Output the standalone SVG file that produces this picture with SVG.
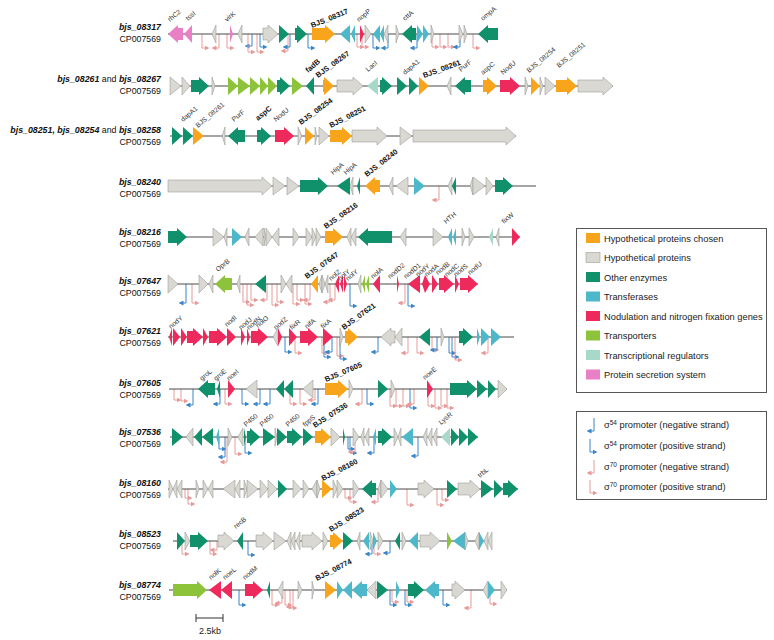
<svg xmlns="http://www.w3.org/2000/svg" width="774" height="640" viewBox="0 0 774 640">
<defs>
<style>
.tr{stroke:#4a4a4a;stroke-width:1}
.o{fill:#F8A51B}
.g{fill:#D9D8D2;stroke:#9E9D98;stroke-width:0.6}
.e{fill:#11906C}
.t{fill:#4CB8C9}
.n{fill:#EE2A5C}
.l{fill:#8DC33B}
.r{fill:#A7D9C9}
.s{fill:#E97FC5}
.pb{fill:none;stroke:#3A86C8;stroke-width:1;marker-end:url(#mb)}
.pp{fill:none;stroke:#E89A9A;stroke-width:1;marker-end:url(#mp)}
.lb{font-family:"Liberation Sans",Arial,sans-serif;font-size:6.8px;fill:#333}
.lbb{font-family:"Liberation Sans",Arial,sans-serif;font-size:7.5px;font-weight:bold;fill:#111}
.nm{font-family:"Liberation Sans",Arial,sans-serif;font-size:8.8px;font-weight:bold;font-style:italic;fill:#111;text-anchor:end}
.nm tspan.a{font-weight:normal;font-style:normal}
.cp{font-family:"Liberation Sans",Arial,sans-serif;font-size:8.8px;fill:#111;text-anchor:end}
.lg{font-family:"Liberation Sans",Arial,sans-serif;font-size:9.3px;fill:#222}
</style>
<marker id="mb" markerWidth="5" markerHeight="5" refX="3.5" refY="2.5" orient="auto" markerUnits="userSpaceOnUse"><path d="M0 0L5 2.5L0 5Z" fill="#3A86C8"/></marker>
<marker id="mp" markerWidth="5" markerHeight="5" refX="3.5" refY="2.5" orient="auto" markerUnits="userSpaceOnUse"><path d="M0 0L5 2.5L0 5Z" fill="#E89A9A"/></marker>
</defs>
<rect width="774" height="640" fill="#fff"/>

<!-- left labels -->
<g id="names">
<text class="nm" x="161" y="30">bjs_08317</text><text class="cp" x="161" y="42">CP007569</text>
<text class="nm" x="161" y="82">bjs_08261<tspan class="a"> and </tspan>bjs_08267</text><text class="cp" x="161" y="94">CP007569</text>
<text class="nm" x="161" y="133">bjs_08251, bjs_08254<tspan class="a"> and </tspan>bjs_08258</text><text class="cp" x="161" y="145">CP007569</text>
<text class="nm" x="161" y="185">bjs_08240</text><text class="cp" x="161" y="197">CP007569</text>
<text class="nm" x="161" y="235">bjs_08216</text><text class="cp" x="161" y="247">CP007569</text>
<text class="nm" x="161" y="284">bjs_07647</text><text class="cp" x="161" y="296">CP007569</text>
<text class="nm" x="161" y="334">bjs_07621</text><text class="cp" x="161" y="346">CP007569</text>
<text class="nm" x="161" y="386">bjs_07605</text><text class="cp" x="161" y="398">CP007569</text>
<text class="nm" x="161" y="435">bjs_07536</text><text class="cp" x="161" y="447">CP007569</text>
<text class="nm" x="161" y="486">bjs_08160</text><text class="cp" x="161" y="498">CP007569</text>
<text class="nm" x="161" y="537">bjs_08523</text><text class="cp" x="161" y="549">CP007569</text>
<text class="nm" x="161" y="588">bjs_08774</text><text class="cp" x="161" y="600">CP007569</text>
</g>

<!-- promoters (connectors) -->
<g id="connectors">
<path class="pp" d="M202 34V48h6"/><path class="pp" d="M219 34V48h-6"/><path class="pp" d="M227 34V48h6"/><path class="pb" d="M252 34V46h-6"/><path class="pp" d="M248 34V52h6"/><path class="pp" d="M257 34V52h6"/><path class="pb" d="M260 34V47h6"/><path class="pp" d="M288 34V51h-6"/><path class="pb" d="M290 34V47h-6"/><path class="pb" d="M308 34V48h6"/><path class="pp" d="M357 34V47h6"/><path class="pp" d="M362 34V47h6"/><path class="pb" d="M373 34V48h6"/><path class="pb" d="M388 34V48h-6"/><path class="pb" d="M417 34V48h-6"/><path class="pp" d="M432 34V47h6"/><path class="pp" d="M440 34V47h6"/><path class="pp" d="M448 34V47h6"/><path class="pb" d="M460 34V47h-6"/><path class="pp" d="M473 34V48h6"/>
<path class="pp" d="M439 186V200h-6"/>
<path class="pb" d="M186 284V303h-6"/><path class="pp" d="M192 284V303h6"/><path class="pp" d="M243 284V302h6"/><path class="pp" d="M247 284V305h6"/><path class="pp" d="M251 284V300h6"/><path class="pp" d="M267 284V300h-6"/><path class="pp" d="M272 284V305h6"/><path class="pp" d="M277 284V302h6"/><path class="pp" d="M293 284V304h6"/><path class="pp" d="M297 284V300h6"/><path class="pp" d="M305 284V304h6"/><path class="pp" d="M310 284V300h-6"/><path class="pp" d="M330 284V302h-6"/><path class="pp" d="M335 284V300h-6"/><path class="pb" d="M350 284V306h6"/><path class="pp" d="M405 284V303h-6"/><path class="pb" d="M408 284V306h6"/>
<path class="pb" d="M285 337V352h6"/><path class="pp" d="M295 337V353h6"/><path class="pp" d="M322 337V353h6"/><path class="pb" d="M324 337V357h6"/><path class="pb" d="M332 337V352h-6"/><path class="pp" d="M337 337V356h6"/><path class="pb" d="M340 337V359h6"/><path class="pb" d="M378 337V352h-6"/><path class="pp" d="M408 337V353h-6"/><path class="pp" d="M417 337V353h6"/><path class="pp" d="M432 337V350h6"/><path class="pb" d="M437 337V350h-6"/><path class="pb" d="M449 337V353h6"/><path class="pb" d="M452 337V357h6"/><path class="pp" d="M455 337V360h6"/><path class="pp" d="M488 337V353h-6"/>
<path class="pp" d="M174 389V400h6"/><path class="pp" d="M181 389V401h6"/><path class="pb" d="M193 389V405h-6"/><path class="pb" d="M220 389V404h-6"/><path class="pp" d="M225 389V404h6"/><path class="pb" d="M242 389V404h6"/><path class="pb" d="M260 389V404h-6"/><path class="pb" d="M270 389V404h-6"/><path class="pp" d="M290 389V404h6"/><path class="pp" d="M300 389V404h6"/><path class="pp" d="M315 389V400h-6"/><path class="pb" d="M318 389V404h-6"/><path class="pp" d="M362 389V404h-6"/><path class="pb" d="M367 389V404h6"/><path class="pp" d="M390 389V406h6"/><path class="pp" d="M396 389V406h6"/><path class="pp" d="M403 389V406h6"/><path class="pb" d="M410 389V408h6"/><path class="pp" d="M414 389V404h-6"/><path class="pp" d="M428 389V406h6"/><path class="pp" d="M435 389V408h6"/><path class="pp" d="M441 389V406h6"/><path class="pp" d="M447 389V408h6"/>
<path class="pb" d="M219 437V449h6"/><path class="pb" d="M225 437V457h-6"/><path class="pp" d="M227 437V462h-6"/><path class="pp" d="M235 437V454h6"/><path class="pb" d="M245 437V453h6"/><path class="pb" d="M348 437V449h6"/><path class="pb" d="M350 437V453h6"/><path class="pp" d="M355 437V452h-6"/><path class="pb" d="M374 437V453h-6"/><path class="pb" d="M418 437V456h-6"/>
<path class="pp" d="M185 489V498h6"/><path class="pp" d="M188 489V504h6"/><path class="pp" d="M345 489V498h6"/><path class="pp" d="M350 489V502h6"/><path class="pp" d="M378 489V502h-6"/><path class="pp" d="M407 489V505h6"/><path class="pp" d="M437 489V505h6"/><path class="pp" d="M442 489V500h6"/>
<path class="pp" d="M182 541V554h6"/><path class="pp" d="M210 541V554h6"/><path class="pp" d="M217 541V550h-6"/><path class="pb" d="M248 541V555h6"/><path class="pb" d="M372 541V554h-6"/><path class="pp" d="M374 541V554h6"/><path class="pb" d="M390 541V553h-6"/>
<path class="pb" d="M239 590V605h6"/><path class="pp" d="M272 590V605h6"/><path class="pp" d="M282 590V603h-6"/><path class="pp" d="M285 590V605h6"/><path class="pp" d="M290 590V608h6"/><path class="pp" d="M293 590V607h-6"/><path class="pb" d="M390 590V605h6"/><path class="pp" d="M392 590V602h6"/><path class="pb" d="M405 590V605h6"/><path class="pp" d="M407 590V602h6"/><path class="pb" d="M443 590V605h6"/><path class="pp" d="M471 590V608h-6"/><path class="pp" d="M490 590V604h6"/>
</g>

<!-- Row 1 -->
<g id="locus-bjs_08317" transform="translate(0,34)">
<path class="tr" d="M168 0H498"/>
<path class="s" d="M183 -6H178V-9L168 0L178 9V6H183Z"/>
<path class="s" d="M192 -9L184 0L192 9Z"/>
<path class="g" d="M216 -9L212 0L216 9Z"/>
<path class="s" d="M230 -9L233 0L230 9Z"/>
<path class="g" d="M242 -9L238 0L242 9Z"/>
<path class="g" d="M263 -6H268V-9L278 0L268 9V6H263Z"/>
<path class="e" d="M279 -9L289 0L279 9Z"/>
<path class="e" d="M295 -6H297V-9L307 0L297 9V6H295Z"/>
<path class="o" d="M312 -6H325V-9L335 0L325 9V6H312Z"/>
<path class="t" d="M350 -9L340 0L350 9Z"/>
<path class="t" d="M355 -9L351 0L355 9Z"/>
<path class="n" d="M360 -9L364 0L360 9Z"/>
<path class="g" d="M365 -9L371 0L365 9Z"/>
<path class="t" d="M380 -9L373 0L380 9Z"/>
<path class="t" d="M384 -9L380 0L384 9Z"/>
<path class="g" d="M388 -9L384 0L388 9Z"/>
<path class="g" d="M396 -9L399 0L396 9Z"/>
<path class="e" d="M416 -6H412V-9L402 0L412 9V6H416Z"/>
<path class="t" d="M417 -9L423 0L417 9Z"/>
<path class="t" d="M423 -9L429 0L423 9Z"/>
<path class="g" d="M431 -9L434 0L431 9Z"/>
<path class="g" d="M459 -9L463 0L459 9Z"/>
<path class="g" d="M464 -9L467 0L464 9Z"/>
<path class="e" d="M498 -6H488V-9L478 0L488 9V6H498Z"/>
<text class="lb" transform="translate(170,-12) rotate(-40)">rhC2</text>
<text class="lb" transform="translate(188,-13) rotate(-40)">tssI</text>
<text class="lb" transform="translate(227,-12) rotate(-40)">virK</text>
<text class="lbb" transform="translate(312,-6) rotate(-22)">BJS_08317</text>
<text class="lb" transform="translate(359,-12) rotate(-40)">nopP</text>
<text class="lb" transform="translate(405,-13) rotate(-40)">cttA</text>
<text class="lb" transform="translate(483,-13) rotate(-40)">ompA</text>
</g>

<!-- Row 2 -->
<g id="locus-bjs_08261_08267" transform="translate(0,86)">
<path class="tr" d="M170 0H613"/>
<path class="g" d="M170 -9L181 0L170 9Z"/>
<path class="g" d="M182 -9L190 0L182 9Z"/>
<path class="e" d="M191 -6H199V-9L209 0L199 9V6H191Z"/>
<path class="g" d="M212 -9L215 0L212 9Z"/>
<path class="l" d="M228 -9L238 0L228 9Z"/>
<path class="l" d="M238 -9L250 0L238 9Z"/>
<path class="l" d="M250 -9L260 0L250 9Z"/>
<path class="l" d="M260 -9L268 0L260 9Z"/>
<path class="l" d="M268 -9L277 0L268 9Z"/>
<path class="e" d="M277 -6H280V-9L290 0L280 9V6H277Z"/>
<path class="l" d="M292 -9L303 0L292 9Z"/>
<path class="e" d="M314 -9L306 0L314 9Z"/>
<path class="o" d="M323 -6H324V-9L334 0L324 9V6H323Z"/>
<path class="g" d="M337 -6H353V-9L363 0L353 9V6H337Z"/>
<path class="r" d="M378 -9L367 0L378 9Z"/>
<path class="e" d="M380 -6H382V-9L392 0L382 9V6H380Z"/>
<path class="e" d="M397 -9L407 0L397 9Z"/>
<path class="e" d="M409 -9L418 0L409 9Z"/>
<path class="o" d="M419 -9L429 0L419 9Z"/>
<path class="g" d="M451 -9L447 0L451 9Z"/>
<path class="e" d="M471 -6H465V-9L455 0L465 9V6H471Z"/>
<path class="o" d="M483 -6H487V-9L497 0L487 9V6H483Z"/>
<path class="n" d="M500 -6H510V-9L520 0L510 9V6H500Z"/>
<path class="g" d="M525 -9L528 0L525 9Z"/>
<path class="o" d="M531 -9L540 0L531 9Z"/>
<path class="g" d="M540 -9L543 0L540 9Z"/>
<path class="g" d="M545 -9L555 0L545 9Z"/>
<path class="o" d="M556 -6H567V-9L577 0L567 9V6H556Z"/>
<path class="g" d="M578 -6H603V-9L613 0L603 9V6H578Z"/>
<text class="lbb" transform="translate(308,-13) rotate(-40)">fadB</text>
<text class="lbb" transform="translate(318,-8) rotate(-36)">BJS_08267</text>
<text class="lb" transform="translate(368,-14) rotate(-40)">LacI</text>
<text class="lb" transform="translate(405,-11) rotate(-40)">dapA1</text>
<text class="lbb" transform="translate(424,-8) rotate(-20)">BJS_08261</text>
<text class="lb" transform="translate(461,-14) rotate(-40)">PurF</text>
<text class="lb" transform="translate(483,-11) rotate(-40)">aspC</text>
<text class="lb" transform="translate(503,-11) rotate(-40)">NodU</text>
<text class="lb" transform="translate(529,-13) rotate(-40)">BJS_08254</text>
<text class="lb" transform="translate(559,-18) rotate(-40)">BJS_08251</text>
</g>

<!-- Row 3 -->
<g id="locus-bjs_08251_08254_08258" transform="translate(0,136)">
<path class="tr" d="M170 0H516"/>
<path class="e" d="M172 -9L182 0L172 9Z"/>
<path class="e" d="M183 -9L193 0L183 9Z"/>
<path class="o" d="M193 -9L204 0L193 9Z"/>
<path class="g" d="M225 -9L222 0L225 9Z"/>
<path class="e" d="M245 -6H238V-9L228 0L238 9V6H245Z"/>
<path class="e" d="M257 -6H261V-9L271 0L261 9V6H257Z"/>
<path class="n" d="M275 -6H284V-9L294 0L284 9V6H275Z"/>
<path class="g" d="M298 -9L302 0L298 9Z"/>
<path class="o" d="M305 -9L314 0L305 9Z"/>
<path class="g" d="M315 -9L317 0L315 9Z"/>
<path class="g" d="M319 -9L329 0L319 9Z"/>
<path class="o" d="M330 -6H342V-9L352 0L342 9V6H330Z"/>
<path class="g" d="M352 -6H377V-9L387 0L377 9V6H352Z"/>
<path class="g" d="M400 -9L412 0L400 9Z"/>
<path class="g" d="M413 -6H506V-9L516 0L506 9V6H413Z"/>
<text class="lb" transform="translate(183,-14) rotate(-40)">dapA1</text>
<text class="lb" transform="translate(198,-8) rotate(-40)">BJS_08261</text>
<text class="lb" transform="translate(234,-14) rotate(-40)">PurF</text>
<text class="lbb" transform="translate(258,-15) rotate(-40)">aspC</text>
<text class="lb" transform="translate(276,-14) rotate(-40)">NodU</text>
<text class="lbb" transform="translate(301,-11) rotate(-36)">BJS_08254</text>
<text class="lbb" transform="translate(331,-8) rotate(-27)">BJS_08251</text>
</g>

<!-- Row 4 -->
<g id="locus-bjs_08240" transform="translate(0,186)">
<path class="tr" d="M168 0H536"/>
<path class="g" d="M168 -6H262V-9L272 0L262 9V6H168Z"/>
<path class="g" d="M273 -9L285 0L273 9Z"/>
<path class="g" d="M287 -9L299 0L287 9Z"/>
<path class="e" d="M300 -6H318V-9L328 0L318 9V6H300Z"/>
<path class="e" d="M350 -9L337 0L350 9Z"/>
<path class="g" d="M353 -9L350 0L353 9Z"/>
<path class="e" d="M360 -9L357 0L360 9Z"/>
<path class="o" d="M380 -6H375V-9L365 0L375 9V6H380Z"/>
<path class="g" d="M393 -9L389 0L393 9Z"/>
<path class="g" d="M408 -9L396 0L408 9Z"/>
<path class="t" d="M414 -9L425 0L414 9Z"/>
<path class="g" d="M452 -9L448 0L452 9Z"/>
<path class="e" d="M456 -9L452 0L456 9Z"/>
<path class="g" d="M473 -9L470 0L473 9Z"/>
<path class="g" d="M473 -9L485 0L473 9Z"/>
<path class="g" d="M486 -9L493 0L486 9Z"/>
<path class="e" d="M495 -6H503V-9L513 0L503 9V6H495Z"/>
<text class="lb" transform="translate(333,-11) rotate(-40)">HipA</text>
<text class="lb" transform="translate(346,-11) rotate(-40)">HipA</text>
<text class="lbb" transform="translate(367,-9) rotate(-38)">BJS_08240</text>
</g>

<!-- Row 5 -->
<g id="locus-bjs_08216" transform="translate(0,237)">
<path class="tr" d="M168 0H520"/>
<path class="e" d="M168 -6H177V-9L187 0L177 9V6H168Z"/>
<path class="g" d="M213 -9L224 0L213 9Z"/>
<path class="g" d="M227 -9L224 0L227 9Z"/>
<path class="t" d="M232 -9L242 0L232 9Z"/>
<path class="g" d="M249 -9L245 0L249 9Z"/>
<path class="g" d="M263 -9L255 0L263 9Z"/>
<path class="g" d="M264 -9L266 0L264 9Z"/>
<path class="g" d="M266 -9L272 0L266 9Z"/>
<path class="g" d="M279 -9L272 0L279 9Z"/>
<path class="g" d="M293 -9L299 0L293 9Z"/>
<path class="g" d="M306 -9L312 0L306 9Z"/>
<path class="g" d="M312 -9L316 0L312 9Z"/>
<path class="g" d="M316 -9L321 0L316 9Z"/>
<path class="o" d="M325 -6H333V-9L343 0L333 9V6H325Z"/>
<path class="g" d="M351 -9L347 0L351 9Z"/>
<path class="g" d="M356 -9L351 0L356 9Z"/>
<path class="e" d="M392 -6H368V-9L358 0L368 9V6H392Z"/>
<path class="g" d="M406 -9L400 0L406 9Z"/>
<path class="g" d="M433 -9L443 0L433 9Z"/>
<path class="t" d="M452 -9L448 0L452 9Z"/>
<path class="t" d="M456 -9L453 0L456 9Z"/>
<path class="g" d="M462 -9L465 0L462 9Z"/>
<path class="g" d="M469 -9L474 0L469 9Z"/>
<path class="r" d="M493 -9L489 0L493 9Z"/>
<path class="g" d="M499 -9L496 0L499 9Z"/>
<path class="n" d="M512 -9L520 0L512 9Z"/>
<text class="lbb" transform="translate(326,-8) rotate(-35)">BJS_08216</text>
<text class="lb" transform="translate(446,-13) rotate(-40)">HTH</text>
<text class="lb" transform="translate(504,-13) rotate(-40)">fixW</text>
</g>

<!-- Row 6 -->
<g id="locus-bjs_07647" transform="translate(0,284)">
<path class="tr" d="M168 0H478"/>
<path class="g" d="M168 -9L178 0L168 9Z"/>
<path class="g" d="M199 -9L208 0L199 9Z"/>
<path class="g" d="M213 -9L209 0L213 9Z"/>
<path class="l" d="M232 -6H225V-9L215 0L225 9V6H232Z"/>
<path class="g" d="M240 -9L237 0L240 9Z"/>
<path class="e" d="M266 -9L255 0L266 9Z"/>
<path class="g" d="M281 -9L286 0L281 9Z"/>
<path class="g" d="M292 -9L286 0L292 9Z"/>
<path class="o" d="M318 -9L311 0L318 9Z"/>
<path class="g" d="M322 -9L319 0L322 9Z"/>
<path class="g" d="M322 -9L325 0L322 9Z"/>
<path class="g" d="M328 -9L325 0L328 9Z"/>
<path class="n" d="M339 -9L335 0L339 9Z"/>
<path class="n" d="M343 -9L340 0L343 9Z"/>
<path class="n" d="M344 -9L347 0L344 9Z"/>
<path class="g" d="M361 -9L358 0L361 9Z"/>
<path class="l" d="M365 -9L362 0L365 9Z"/>
<path class="l" d="M369 -9L366 0L369 9Z"/>
<path class="n" d="M380 -9L373 0L380 9Z"/>
<path class="n" d="M397 -9L399 0L397 9Z"/>
<path class="n" d="M420 -9L408 0L420 9Z"/>
<path class="n" d="M425 -9L422 0L425 9Z"/>
<path class="n" d="M425 -9L430 0L425 9Z"/>
<path class="n" d="M432 -9L438 0L432 9Z"/>
<path class="n" d="M439 -6H444V-9L454 0L444 9V6H439Z"/>
<path class="n" d="M455 -9L459 0L455 9Z"/>
<path class="n" d="M460 -6H468V-9L478 0L468 9V6H460Z"/>
<text class="lb" transform="translate(218,-12) rotate(-40)">OprB</text>
<text class="lbb" transform="translate(307,-5) rotate(-36)">BJS_07647</text>
<text class="lb" transform="translate(331,-3) rotate(-40)">nolZ</text>
<text class="lb" transform="translate(340,-3) rotate(-40)">nolY</text>
<text class="lb" transform="translate(348,-3) rotate(-40)">nolY</text>
<text class="lb" transform="translate(373,-5) rotate(-40)">nolA</text>
<text class="lb" transform="translate(390,-5) rotate(-40)">nodD2</text>
<text class="lb" transform="translate(406,-5) rotate(-40)">nodD1</text>
<text class="lb" transform="translate(418,-7) rotate(-40)">nodY</text>
<text class="lb" transform="translate(427,-7) rotate(-40)">nodA</text>
<text class="lb" transform="translate(438,-9) rotate(-40)">nodB</text>
<text class="lb" transform="translate(447,-7) rotate(-40)">nodC</text>
<text class="lb" transform="translate(456,-7) rotate(-40)">nodS</text>
<text class="lb" transform="translate(470,-9) rotate(-40)">nodU</text>
</g>

<!-- Row 7 -->
<g id="locus-bjs_07621" transform="translate(0,337)">
<path class="tr" d="M168 0H514"/>
<path class="n" d="M172 -9L169 0L172 9Z"/>
<path class="n" d="M173 -9L180 0L173 9Z"/>
<path class="n" d="M181 -9L187 0L181 9Z"/>
<path class="n" d="M187 -6H193V-9L203 0L193 9V6H187Z"/>
<path class="n" d="M203 -9L208 0L203 9Z"/>
<path class="n" d="M209 -6H217V-9L227 0L217 9V6H209Z"/>
<path class="n" d="M227 -9L236 0L227 9Z"/>
<path class="n" d="M241 -9L245 0L241 9Z"/>
<path class="n" d="M247 -9L250 0L247 9Z"/>
<path class="n" d="M251 -6H258V-9L268 0L258 9V6H251Z"/>
<path class="g" d="M278 -9L273 0L278 9Z"/>
<path class="n" d="M278 -9L282 0L278 9Z"/>
<path class="n" d="M289 -9L297 0L289 9Z"/>
<path class="n" d="M300 -6H308V-9L318 0L308 9V6H300Z"/>
<path class="n" d="M323 -9L333 0L323 9Z"/>
<path class="g" d="M340 -9L343 0L340 9Z"/>
<path class="o" d="M345 -6H348V-9L358 0L348 9V6H345Z"/>
<path class="g" d="M395 -6H391V-9L381 0L391 9V6H395Z"/>
<path class="g" d="M402 -9L395 0L402 9Z"/>
<path class="e" d="M430 -9L419 0L430 9Z"/>
<path class="g" d="M441 -9L444 0L441 9Z"/>
<path class="e" d="M459 -6H463V-9L473 0L463 9V6H459Z"/>
<path class="t" d="M477 -9L480 0L477 9Z"/>
<path class="t" d="M481 -9L490 0L481 9Z"/>
<path class="t" d="M491 -9L501 0L491 9Z"/>
<text class="lb" transform="translate(171,-8) rotate(-40)">nodY</text>
<text class="lb" transform="translate(227,-10) rotate(-40)">nodI</text>
<text class="lb" transform="translate(241,-7) rotate(-40)">nodJ</text>
<text class="lb" transform="translate(249,-7) rotate(-40)">nodN</text>
<text class="lb" transform="translate(258,-9) rotate(-40)">nolO</text>
<text class="lb" transform="translate(276,-7) rotate(-40)">nodZ</text>
<text class="lb" transform="translate(292,-7) rotate(-40)">fixR</text>
<text class="lb" transform="translate(307,-8) rotate(-40)">nifA</text>
<text class="lb" transform="translate(323,-8) rotate(-40)">fixA</text>
<text class="lbb" transform="translate(344,-7) rotate(-36)">BJS_07621</text>
</g>

<!-- Row 8 -->
<g id="locus-bjs_07605" transform="translate(0,389)">
<path class="tr" d="M169 0H507"/>
<path class="e" d="M215 -6H208V-9L198 0L208 9V6H215Z"/>
<path class="e" d="M220 -9L217 0L220 9Z"/>
<path class="n" d="M228 -9L235 0L228 9Z"/>
<path class="g" d="M257 -9L246 0L257 9Z"/>
<path class="e" d="M284 -9L276 0L284 9Z"/>
<path class="e" d="M293 -9L284 0L293 9Z"/>
<path class="g" d="M313 -9L303 0L313 9Z"/>
<path class="o" d="M325 -6H338V-9L348 0L338 9V6H325Z"/>
<path class="g" d="M349 -9L353 0L349 9Z"/>
<path class="e" d="M378 -9L388 0L378 9Z"/>
<path class="g" d="M391 -9L395 0L391 9Z"/>
<path class="n" d="M427 -9L433 0L427 9Z"/>
<path class="e" d="M450 -6H467V-9L477 0L467 9V6H450Z"/>
<path class="e" d="M477 -9L487 0L477 9Z"/>
<path class="e" d="M488 -9L496 0L488 9Z"/>
<path class="g" d="M498 -9L507 0L498 9Z"/>
<text class="lb" transform="translate(202,-8) rotate(-40)">groL</text>
<text class="lb" transform="translate(216,-8) rotate(-40)">groE</text>
<text class="lb" transform="translate(229,-8) rotate(-40)">noeI</text>
<text class="lbb" transform="translate(326,-7) rotate(-23)">BJS_07605</text>
<text class="lb" transform="translate(425,-9) rotate(-40)">noeE</text>
</g>

<!-- Row 9 -->
<g id="locus-bjs_07536" transform="translate(0,437)">
<path class="tr" d="M170 0H478"/>
<path class="e" d="M172 -9L183 0L172 9Z"/>
<path class="g" d="M193 -9L186 0L193 9Z"/>
<path class="e" d="M202 -9L194 0L202 9Z"/>
<path class="e" d="M213 -9L202 0L213 9Z"/>
<path class="t" d="M219 -9L216 0L219 9Z"/>
<path class="g" d="M228 -9L232 0L228 9Z"/>
<path class="g" d="M243 -9L238 0L243 9Z"/>
<path class="e" d="M244 -9L246 0L244 9Z"/>
<path class="e" d="M247 -6H250V-9L260 0L250 9V6H247Z"/>
<path class="e" d="M263 -9L275 0L263 9Z"/>
<path class="g" d="M275 -9L277 0L275 9Z"/>
<path class="e" d="M277 -9L287 0L277 9Z"/>
<path class="e" d="M287 -6H292V-9L302 0L292 9V6H287Z"/>
<path class="e" d="M303 -9L313 0L303 9Z"/>
<path class="o" d="M315 -6H321V-9L331 0L321 9V6H315Z"/>
<path class="g" d="M331 -9L340 0L331 9Z"/>
<path class="e" d="M343 -9L345 0L343 9Z"/>
<path class="g" d="M353 -9L359 0L353 9Z"/>
<path class="g" d="M364 -9L361 0L364 9Z"/>
<path class="g" d="M369 -9L365 0L369 9Z"/>
<path class="t" d="M376 -9L373 0L376 9Z"/>
<path class="e" d="M378 -6H382V-9L392 0L382 9V6H378Z"/>
<path class="g" d="M394 -9L398 0L394 9Z"/>
<path class="g" d="M401 -9L398 0L401 9Z"/>
<path class="t" d="M413 -9L402 0L413 9Z"/>
<path class="g" d="M427 -9L423 0L427 9Z"/>
<path class="g" d="M432 -9L428 0L432 9Z"/>
<path class="g" d="M437 -9L433 0L437 9Z"/>
<path class="r" d="M450 -9L441 0L450 9Z"/>
<path class="e" d="M451 -9L459 0L451 9Z"/>
<path class="e" d="M459 -9L468 0L459 9Z"/>
<path class="e" d="M468 -9L478 0L468 9Z"/>
<text class="lb" transform="translate(246,-10) rotate(-40)">P450</text>
<text class="lb" transform="translate(262,-10) rotate(-40)">P450</text>
<text class="lb" transform="translate(288,-10) rotate(-40)">P450</text>
<text class="lb" transform="translate(305,-10) rotate(-40)">fppS</text>
<text class="lbb" transform="translate(315,-9) rotate(-33)">BJS_07536</text>
<text class="lb" transform="translate(441,-12) rotate(-40)">LysR</text>
</g>

<!-- Row 10 -->
<g id="locus-bjs_08160" transform="translate(0,489)">
<path class="tr" d="M168 0H518"/>
<path class="g" d="M169 -9L173 0L169 9Z"/>
<path class="g" d="M177 -9L173 0L177 9Z"/>
<path class="g" d="M182 -9L177 0L182 9Z"/>
<path class="g" d="M196 -9L199 0L196 9Z"/>
<path class="g" d="M203 -9L208 0L203 9Z"/>
<path class="g" d="M213 -9L208 0L213 9Z"/>
<path class="g" d="M235 -9L223 0L235 9Z"/>
<path class="g" d="M240 -9L235 0L240 9Z"/>
<path class="g" d="M244 -9L247 0L244 9Z"/>
<path class="g" d="M247 -9L258 0L247 9Z"/>
<path class="g" d="M260 -9L268 0L260 9Z"/>
<path class="g" d="M268 -9L277 0L268 9Z"/>
<path class="e" d="M278 -9L287 0L278 9Z"/>
<path class="g" d="M293 -9L301 0L293 9Z"/>
<path class="g" d="M303 -9L309 0L303 9Z"/>
<path class="g" d="M317 -9L312 0L317 9Z"/>
<path class="g" d="M317 -9L320 0L317 9Z"/>
<path class="o" d="M322 -9L332 0L322 9Z"/>
<path class="g" d="M333 -9L337 0L333 9Z"/>
<path class="g" d="M337 -9L343 0L337 9Z"/>
<path class="g" d="M353 -9L359 0L353 9Z"/>
<path class="e" d="M376 -6H372V-9L362 0L372 9V6H376Z"/>
<path class="g" d="M381 -9L378 0L381 9Z"/>
<path class="g" d="M381 -9L388 0L381 9Z"/>
<path class="t" d="M390 -9L397 0L390 9Z"/>
<path class="g" d="M418 -6H424V-9L434 0L424 9V6H418Z"/>
<path class="e" d="M447 -9L457 0L447 9Z"/>
<path class="g" d="M458 -6H470V-9L480 0L470 9V6H458Z"/>
<path class="e" d="M481 -9L493 0L481 9Z"/>
<path class="e" d="M494 -9L503 0L494 9Z"/>
<path class="e" d="M503 -6H508V-9L518 0L508 9V6H503Z"/>
<text class="lbb" transform="translate(323,-8) rotate(-27)">BJS_08160</text>
<text class="lb" transform="translate(480,-11) rotate(-40)">trbL</text>
</g>

<!-- Row 11 -->
<g id="locus-bjs_08523" transform="translate(0,541)">
<path class="tr" d="M173 0H492"/>
<path class="e" d="M177 -9L185 0L177 9Z"/>
<path class="g" d="M185 -9L190 0L185 9Z"/>
<path class="e" d="M190 -6H198V-9L208 0L198 9V6H190Z"/>
<path class="g" d="M218 -6H224V-9L234 0L224 9V6H218Z"/>
<path class="e" d="M243 -9L237 0L243 9Z"/>
<path class="g" d="M256 -6H263V-9L273 0L263 9V6H256Z"/>
<path class="g" d="M274 -9L286 0L274 9Z"/>
<path class="g" d="M291 -9L287 0L291 9Z"/>
<path class="g" d="M295 -9L291 0L295 9Z"/>
<path class="g" d="M300 -9L296 0L300 9Z"/>
<path class="g" d="M302 -6H312V-9L322 0L312 9V6H302Z"/>
<path class="g" d="M323 -9L328 0L323 9Z"/>
<path class="o" d="M330 -6H333V-9L343 0L333 9V6H330Z"/>
<path class="e" d="M343 -9L353 0L343 9Z"/>
<path class="g" d="M360 -9L357 0L360 9Z"/>
<path class="t" d="M369 -9L363 0L369 9Z"/>
<path class="g" d="M370 -9L373 0L370 9Z"/>
<path class="t" d="M373 -9L377 0L373 9Z"/>
<path class="g" d="M378 -9L383 0L378 9Z"/>
<path class="e" d="M400 -9L395 0L400 9Z"/>
<path class="g" d="M402 -9L406 0L402 9Z"/>
<path class="t" d="M418 -9L409 0L418 9Z"/>
<path class="g" d="M420 -6H430V-9L440 0L430 9V6H420Z"/>
<path class="l" d="M447 -9L452 0L447 9Z"/>
<path class="t" d="M465 -9L453 0L465 9Z"/>
<path class="g" d="M465 -9L468 0L465 9Z"/>
<path class="g" d="M479 -9L475 0L479 9Z"/>
<path class="t" d="M479 -9L484 0L479 9Z"/>
<path class="g" d="M488 -9L484 0L488 9Z"/>
<path class="g" d="M492 -9L488 0L492 9Z"/>
<text class="lb" transform="translate(236,-12) rotate(-40)">recB</text>
<text class="lbb" transform="translate(331,-9) rotate(-32)">BJS_08523</text>
</g>

<!-- Row 12 -->
<g id="locus-bjs_08774" transform="translate(0,590)">
<path class="tr" d="M169 0H507"/>
<path class="l" d="M173 -6H197V-9L207 0L197 9V6H173Z"/>
<path class="n" d="M221 -9L209 0L221 9Z"/>
<path class="n" d="M232 -9L221 0L232 9Z"/>
<path class="n" d="M245 -6H253V-9L263 0L253 9V6H245Z"/>
<path class="e" d="M270 -9L267 0L270 9Z"/>
<path class="g" d="M283 -9L278 0L283 9Z"/>
<path class="g" d="M298 -9L302 0L298 9Z"/>
<path class="g" d="M312 -9L314 0L312 9Z"/>
<path class="o" d="M325 -9L336 0L325 9Z"/>
<path class="t" d="M337 -9L343 0L337 9Z"/>
<path class="t" d="M352 -9L343 0L352 9Z"/>
<path class="t" d="M367 -6H362V-9L352 0L362 9V6H367Z"/>
<path class="g" d="M376 -9L367 0L376 9Z"/>
<path class="e" d="M377 -9L388 0L377 9Z"/>
<path class="t" d="M396 -9L400 0L396 9Z"/>
<path class="e" d="M408 -6H414V-9L424 0L414 9V6H408Z"/>
<path class="t" d="M439 -6H435V-9L425 0L435 9V6H439Z"/>
<path class="g" d="M452 -6H455V-9L465 0L455 9V6H452Z"/>
<path class="g" d="M488 -9L483 0L488 9Z"/>
<path class="t" d="M488 -9L495 0L488 9Z"/>
<path class="g" d="M501 -9L507 0L501 9Z"/>
<text class="lb" transform="translate(211,-10) rotate(-40)">nolK</text>
<text class="lb" transform="translate(225,-10) rotate(-40)">noeL</text>
<text class="lb" transform="translate(245,-10) rotate(-40)">nodM</text>
<text class="lbb" transform="translate(317,-9) rotate(-27)">BJS_08774</text>
</g>

<!-- scale bar -->
<g id="scalebar">
<path d="M196 618H223M196 614V622M223 614V622" stroke="#333" stroke-width="1" fill="none"/>
<text x="210" y="634" text-anchor="middle" style="font-family:'Liberation Sans',Arial,sans-serif;font-size:9px;fill:#222">2.5kb</text>
</g>

<!-- legends -->
<g id="legend-genes">
<rect x="576.5" y="228.5" width="190" height="164" fill="none" stroke="#555"/>
<rect class="o" x="586" y="233" width="14" height="10"/><text class="lg" x="604" y="241.5">Hypothetical proteins chosen</text>
<rect class="g" x="586" y="252.5" width="14" height="10"/><text class="lg" x="604" y="261">Hypothetical proteins</text>
<rect class="e" x="586" y="272" width="14" height="10"/><text class="lg" x="604" y="280.5">Other enzymes</text>
<rect class="t" x="586" y="291.5" width="14" height="10"/><text class="lg" x="604" y="300">Transferases</text>
<rect class="n" x="586" y="311" width="14" height="10"/><text class="lg" x="604" y="319.5">Nodulation and nitrogen fixation genes</text>
<rect class="l" x="586" y="330.5" width="14" height="10"/><text class="lg" x="604" y="339">Transporters</text>
<rect class="r" x="586" y="350" width="14" height="10"/><text class="lg" x="604" y="358.5">Transcriptional regulators</text>
<rect class="s" x="586" y="369.5" width="14" height="10"/><text class="lg" x="604" y="378">Protein secretion system</text>
</g>
<g id="legend-promoters">
<rect x="576.5" y="411.5" width="190" height="88" fill="none" stroke="#555"/>
<path class="pb" d="M594 418V431h-6"/><text class="lg" x="604" y="428">σ<tspan font-size="6.5" dy="-3">54</tspan><tspan dy="3"> promoter (negative strand)</tspan></text>
<path class="pb" d="M590 439V452h6"/><text class="lg" x="604" y="449">σ<tspan font-size="6.5" dy="-3">54</tspan><tspan dy="3"> promoter (positive strand)</tspan></text>
<path class="pp" d="M594 460V473h-6"/><text class="lg" x="604" y="470">σ<tspan font-size="6.5" dy="-3">70</tspan><tspan dy="3"> promoter (negative strand)</tspan></text>
<path class="pp" d="M590 480V493h6"/><text class="lg" x="604" y="490">σ<tspan font-size="6.5" dy="-3">70</tspan><tspan dy="3"> promoter (positive strand)</tspan></text>
</g>
</svg>
